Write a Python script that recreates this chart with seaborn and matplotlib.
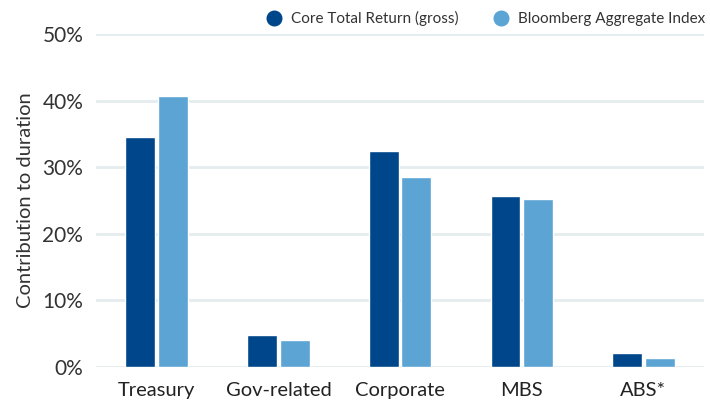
import pandas as pd
import matplotlib.pyplot as plt
import seaborn as sns
from matplotlib.lines import Line2D
from matplotlib.ticker import PercentFormatter

# Contribución a la duración por sector
sectores = ['Treasury', 'Gov-related', 'Corporate', 'MBS', 'ABS*']
core_total_return = [34.5, 4.8, 32.4, 25.7, 2.1]
bloomberg_agg = [40.7, 4.0, 28.5, 25.2, 1.3]
series = ['Core Total Return (gross)', 'Bloomberg Aggregate Index']
colores = ['#00468B', '#5BA4D4']

df = pd.DataFrame({
    'Sector': sectores * 2,
    'Serie': [series[0]] * len(sectores) + [series[1]] * len(sectores),
    'Valor': core_total_return + bloomberg_agg,
})

sns.set_style('white')
plt.rcParams['font.family'] = ['Lato', 'DejaVu Sans']

fig, ax = plt.subplots(figsize=(7.1, 4.09), dpi=100)
fig.subplots_adjust(left=0.135, right=0.992, top=0.917, bottom=0.103)

sns.barplot(data=df, x='Sector', y='Valor', hue='Serie', palette=colores,
            width=0.535, gap=0.08, saturation=1, ax=ax, legend=False, zorder=3)

ax.set_ylim(0, 50)
ax.set_xlim(-0.5, 4.5)
ax.set_yticks([0, 10, 20, 30, 40, 50])
ax.yaxis.set_major_formatter(PercentFormatter(decimals=0))
ax.grid(axis='y', color='#E4ECEF', linewidth=2, zorder=0)
ax.set_axisbelow(True)
sns.despine(ax=ax, left=True, bottom=True)

ax.set_xlabel('')
ax.set_ylabel('Contribution to duration', fontsize=14.5, color='#333333', labelpad=6)
ax.tick_params(axis='y', length=0, pad=9, labelsize=15, labelcolor='#333333')
ax.tick_params(axis='x', length=0, pad=11, labelsize=14.5, labelcolor='#222222')

# Leyenda arriba a la derecha con marcadores circulares
handles = [Line2D([0], [0], marker='o', linestyle='', markersize=10.5,
                  markerfacecolor=c, markeredgecolor=c) for c in colores]
ax.legend(handles, series, loc='lower right', bbox_to_anchor=(1.014, 1.0),
          ncol=2, frameon=False, fontsize=11, handletextpad=0.6,
          columnspacing=2.3, borderaxespad=0.1, handlelength=1.0,
          labelcolor='#333333')

plt.savefig('out.png', dpi=100)
